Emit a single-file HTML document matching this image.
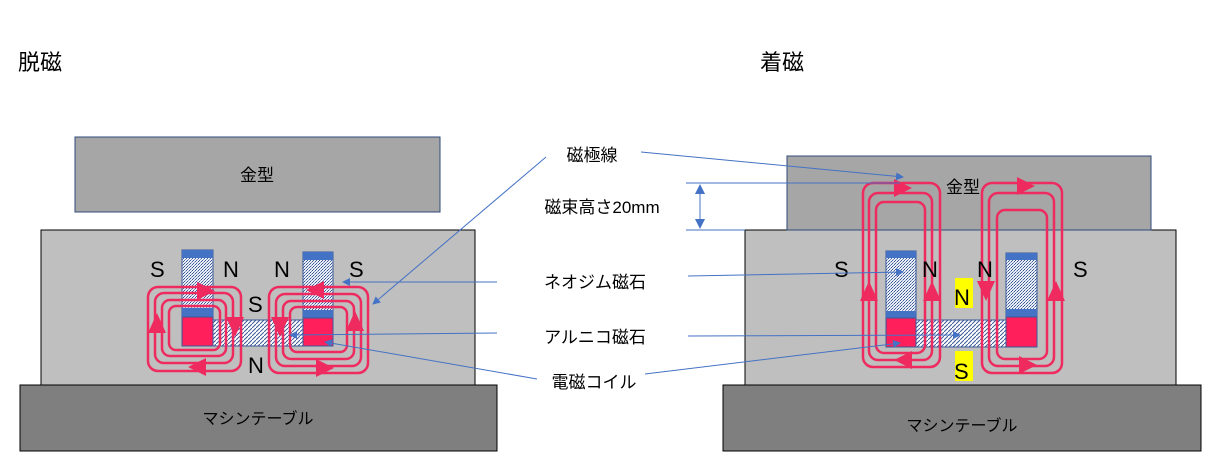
<!DOCTYPE html>
<html><head><meta charset="utf-8"><style>
html,body{margin:0;padding:0;background:#fff;}
svg{display:block;font-family:"Liberation Sans","Noto Sans CJK JP",sans-serif;}
</style></head><body>
<svg width="1213" height="459" viewBox="0 0 1213 459" xmlns="http://www.w3.org/2000/svg">
<defs>
<pattern id="dots" width="3" height="3" patternUnits="userSpaceOnUse">
<rect width="3" height="3" fill="#e8edf6"/><rect width="1" height="1" fill="#3d5a99"/><rect x="2" y="1" width="1" height="1" fill="#7f93c0"/><rect x="1" y="2" width="1" height="1" fill="#3d5a99"/>
</pattern>
<pattern id="diag" width="4" height="4" patternUnits="userSpaceOnUse">
<rect width="4" height="4" fill="#fff"/><path d="M-1,5 L5,-1" stroke="#3d5a99" stroke-width="1"/>
</pattern>
<marker id="ah" markerWidth="8" markerHeight="8" refX="7" refY="4" orient="auto" markerUnits="userSpaceOnUse"><path d="M0,0 L8,4 L0,8 z" fill="#4472c4"/></marker>
</defs>

<text x="18" y="70" font-size="22">脱磁</text>
<text x="760" y="70" font-size="22">着磁</text>

<!-- left -->
<rect x="75" y="137" width="365" height="75" fill="#a6a6a6" stroke="#2f4a7a"/>
<text x="257" y="181" font-size="17" text-anchor="middle">金型</text>
<rect x="41" y="230" width="434" height="155" fill="#bfbfbf" stroke="#000"/>
<rect x="20" y="385" width="477" height="66" fill="#7f7f7f" stroke="#000"/>
<text x="258" y="424" font-size="16" text-anchor="middle">マシンテーブル</text>

<rect x="213" y="320" width="90" height="26" fill="url(#diag)" stroke="#3d5a99"/>
<rect x="182" y="250" width="31" height="96" fill="url(#dots)" stroke="#3d5a99"/>
<rect x="182" y="250" width="31" height="8" fill="#4472c4"/>
<rect x="182" y="308" width="31" height="9" fill="#4472c4"/>
<rect x="182" y="317" width="31" height="29" fill="#ff1f5a" stroke="#3d5a99"/>
<rect x="303" y="252" width="30" height="94" fill="url(#dots)" stroke="#3d5a99"/>
<rect x="303" y="252" width="30" height="8" fill="#4472c4"/>
<rect x="303" y="310" width="30" height="8" fill="#4472c4"/>
<rect x="303" y="318" width="30" height="28" fill="#ff1f5a" stroke="#3d5a99"/>

<g fill="none" stroke="#ee2a5f" stroke-width="2.5">
<rect x="148" y="287" width="93" height="84" rx="10"/>
<rect x="155" y="293" width="78" height="70" rx="9"/>
<rect x="162" y="300" width="64" height="56" rx="8"/>
<rect x="169" y="306" width="51" height="44" rx="7"/>
<rect x="269" y="287" width="99" height="86" rx="10"/>
<rect x="276" y="294" width="85" height="72" rx="9"/>
<rect x="283" y="301" width="71" height="58" rx="8"/>
<rect x="290" y="307" width="57" height="45" rx="7"/>
</g>
<g fill="#ee2a5f">
<path d="M157,313 L148,333 L166,333 z"/>
<path d="M188,367 L206,358 L206,376 z"/>
<path d="M215,291 L197,282 L197,300 z"/>
<path d="M235,337 L226,317 L244,317 z"/>
<path d="M280,337 L271,317 L289,317 z"/>
<path d="M355,311 L346,331 L364,331 z"/>
<path d="M306,290 L324,281 L324,299 z"/>
<path d="M334,368 L316,359 L316,377 z"/>
</g>
<g font-size="22">
<text x="150" y="277">S</text><text x="223" y="277">N</text>
<text x="274" y="277">N</text><text x="349" y="277">S</text>
<text x="248" y="312">S</text><text x="248" y="373">N</text>
</g>

<!-- right -->
<rect x="745" y="230" width="431" height="155" fill="#bfbfbf" stroke="#000"/>
<rect x="787" y="156" width="364" height="74" fill="#a6a6a6" stroke="#2f4a7a"/>
<rect x="723" y="385" width="478" height="66" fill="#7f7f7f" stroke="#000"/>
<text x="962" y="431" font-size="16" text-anchor="middle">マシンテーブル</text>
<text x="963" y="193" font-size="17" text-anchor="middle">金型</text>

<rect x="916" y="320" width="90" height="27" fill="url(#diag)" stroke="#3d5a99"/>
<rect x="886" y="251" width="30" height="96" fill="url(#dots)" stroke="#3d5a99"/>
<rect x="886" y="251" width="30" height="7" fill="#4472c4"/>
<rect x="886" y="311" width="30" height="7" fill="#4472c4"/>
<rect x="886" y="318" width="30" height="29" fill="#ff1f5a" stroke="#3d5a99"/>
<rect x="1006" y="253" width="31" height="94" fill="url(#dots)" stroke="#3d5a99"/>
<rect x="1006" y="253" width="31" height="7" fill="#4472c4"/>
<rect x="1006" y="309" width="31" height="8" fill="#4472c4"/>
<rect x="1006" y="317" width="31" height="30" fill="#ff1f5a" stroke="#3d5a99"/>

<g fill="none" stroke="#ee2a5f" stroke-width="2.5">
<rect x="863" y="183" width="77" height="184" rx="10"/>
<rect x="869" y="193" width="63" height="167" rx="9"/>
<rect x="876" y="202" width="49" height="151" rx="8"/>
<rect x="982" y="183" width="80" height="190" rx="10"/>
<rect x="989" y="193" width="65" height="173" rx="9"/>
<rect x="997" y="210" width="50" height="149" rx="8"/>
</g>
<g fill="#ee2a5f">
<path d="M869,281 L860,301 L878,301 z"/>
<path d="M932,281 L923,301 L941,301 z"/>
<path d="M912,188 L894,179 L894,197 z"/>
<path d="M894,360 L912,351 L912,369 z"/>
<path d="M1035,186 L1017,177 L1017,195 z"/>
<path d="M986,301 L977,281 L995,281 z"/>
<path d="M1056,281 L1047,301 L1065,301 z"/>
<path d="M1037,365 L1019,356 L1019,374 z"/>
</g>
<rect x="955" y="278" width="18" height="30" fill="#ffff00"/>
<rect x="955" y="351" width="18" height="30" fill="#ffff00"/>
<g font-size="22">
<text x="834" y="277">S</text><text x="922" y="277">N</text>
<text x="977" y="277">N</text><text x="1073" y="277">S</text>
<text x="954" y="305">N</text><text x="954" y="379">S</text>
</g>

<!-- center labels -->
<g font-size="17" text-anchor="middle">
<text x="592" y="161">磁極線</text>
<text x="602" y="213">磁束高さ20mm</text>
<text x="595" y="288">ネオジム磁石</text>
<text x="595" y="343">アルニコ磁石</text>
<text x="594" y="388">電磁コイル</text>
</g>
<g stroke="#4472c4" stroke-width="1" fill="none">
<line x1="546" y1="157" x2="373" y2="304" marker-end="url(#ah)"/>
<line x1="641" y1="152" x2="903" y2="177" marker-end="url(#ah)"/>
<line x1="497" y1="282" x2="343" y2="282" marker-end="url(#ah)"/>
<line x1="688" y1="276" x2="903" y2="272" marker-end="url(#ah)"/>
<line x1="497" y1="333" x2="290" y2="335" marker-end="url(#ah)"/>
<line x1="688" y1="336" x2="960" y2="335" marker-end="url(#ah)"/>
<line x1="537" y1="379" x2="325" y2="342" marker-end="url(#ah)"/>
<line x1="645" y1="374" x2="900" y2="343" marker-end="url(#ah)"/>
<line x1="686" y1="183" x2="900" y2="183"/>
<line x1="686" y1="230" x2="745" y2="230"/>
<line x1="700" y1="185" x2="700" y2="228"/>
</g>
<path d="M700,184 L695,194 L705,194 z M700,229 L695,219 L705,219 z" fill="#4472c4"/>
</svg>
</body></html>
